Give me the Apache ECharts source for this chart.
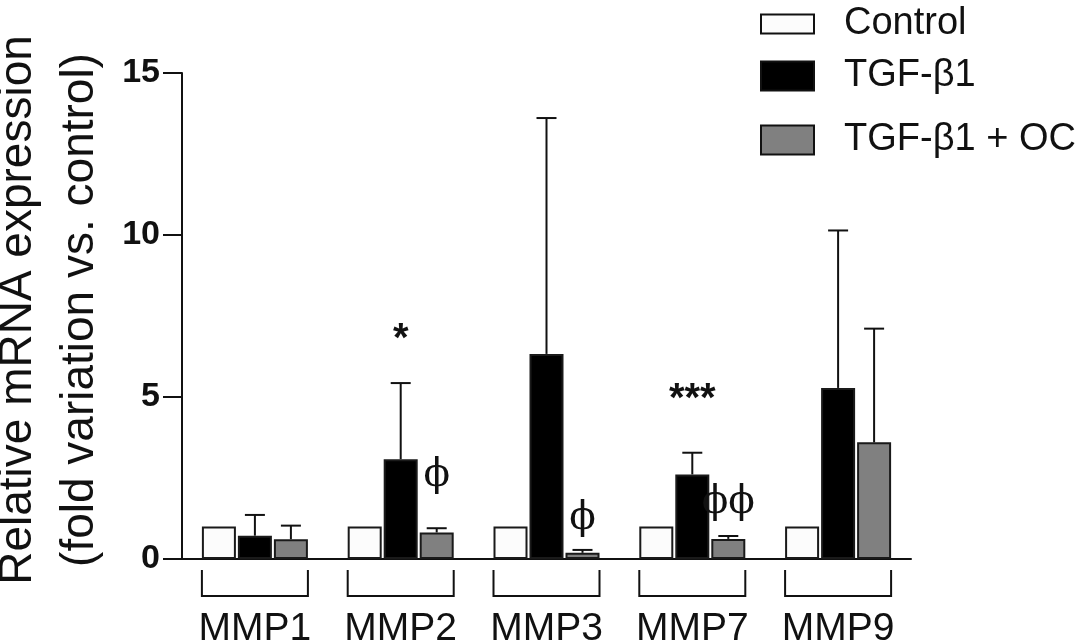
<!DOCTYPE html>
<html>
<head>
<meta charset="utf-8">
<title>MMP expression</title>
<script src="https://cdn.jsdelivr.net/npm/echarts@6/dist/echarts.min.js"></script>
<style>
  html, body { margin: 0; padding: 0; background: #fff; }
</style>
</head>
<body>
<div id="main" style="width:1084px;height:644px;"></div>
<script type="text/javascript">
// data
var categories = ['MMP1', 'MMP2', 'MMP3', 'MMP7', 'MMP9'];
var seriesNames = ['Control', 'TGF-β1', 'TGF-β1 + OC'];
var control = [1, 1, 1, 1, 1];
var tgf = [0.72, 3.08, 6.33, 2.61, 5.28];
var tgfSd = [0.64, 2.35, 7.28, 0.67, 4.86];
var oc = [0.61, 0.82, 0.19, 0.62, 3.60];
var ocSd = [0.42, 0.13, 0.09, 0.09, 3.51];
var yTicks = [0, 5, 10, 15];

// significance marks: category index, series index, value level, text
var markCat = [1, 3, 1, 2, 3];
var markSeries = [1, 1, 2, 2, 2];
var markLevel = [6.75, 4.9, 2.57, 1.24, 1.73];
var markText = ['*', '***', 'ϕ', 'ϕ', 'ϕϕ'];

var FONT = 'Liberation Sans, Arial, sans-serif';
var BAR_W = 34, BAR_GAP = 2;

function offsetOf(s) { return (s - 1) * (BAR_W + BAR_GAP); }

var errData = [];
categories.forEach(function (c, i) {
    errData.push([i, tgf[i], tgf[i] + tgfSd[i], 1]);
    errData.push([i, oc[i], oc[i] + ocSd[i], 2]);
});

var markData = markCat.map(function (c, k) {
    return [c, markLevel[k], markSeries[k], markText[k]];
});

var myChart = echarts.init(document.getElementById('main'));

function legendItem(name, top, h) {
    return {
        orient: 'vertical',
        left: 760,
        top: top,
        padding: 0,
        itemWidth: 53,
        itemHeight: h,
        selectedMode: false,
        data: [{ name: name, icon: 'rect' }],
        itemStyle: { borderColor: '#111', borderWidth: 2 },
        textStyle: { fontFamily: FONT, fontSize: 38, color: '#111', padding: [0, 0, 0, 25] }
    };
}

var option = {
    backgroundColor: '#fff',
    animation: false,
    legend: [
        legendItem('Control', 5, 19),
        legendItem('TGF-β1', 57, 29),
        legendItem('TGF-β1 + OC', 121, 29)
    ],
    grid: { left: 182, right: 173, top: 73, bottom: 85, containLabel: false, outerBoundsMode: 'none' },
    xAxis: {
        type: 'category',
        data: categories,
        axisLine: { lineStyle: { color: '#111', width: 2 } },
        axisTick: { show: false },
        axisLabel: { fontFamily: FONT, fontSize: 39, color: '#111', margin: 51, interval: 0 }
    },
    yAxis: {
        type: 'value',
        min: 0,
        max: 15,
        interval: 5,
        name: 'Relative mRNA expression\n(fold variation vs. control)',
        nameLocation: 'middle',
        nameRotate: 90,
        nameGap: 67,
        nameTextStyle: { fontFamily: FONT, fontSize: 46, color: '#111', lineHeight: 62, padding: [0, 0, 0, 12] },
        splitLine: { show: false },
        axisLine: { show: true, lineStyle: { color: '#111', width: 2 } },
        axisTick: { show: true, length: 19, lineStyle: { color: '#111', width: 2 } },
        axisLabel: {
            fontFamily: FONT, fontSize: 34, fontWeight: 'bold', color: '#111', margin: 22,
            formatter: function (v) { return yTicks.indexOf(v) >= 0 ? String(v) : ''; }
        }
    },
    series: [
        {
            name: seriesNames[0], type: 'bar', data: control,
            barWidth: BAR_W, barGap: (BAR_GAP / BAR_W * 100) + '%',
            itemStyle: { color: '#fcfcfc', borderColor: '#1a1a1a', borderWidth: 2 }
        },
        {
            name: seriesNames[1], type: 'bar', data: tgf,
            barWidth: BAR_W,
            itemStyle: { color: '#000', borderColor: '#1a1a1a', borderWidth: 2 }
        },
        {
            name: seriesNames[2], type: 'bar', data: oc,
            barWidth: BAR_W,
            itemStyle: { color: '#808080', borderColor: '#1a1a1a', borderWidth: 2 }
        },
        {
            // error bars (upper only)
            type: 'custom',
            data: errData,
            z: 3,
            renderItem: function (params, api) {
                var ci = api.value(0), s = api.value(3);
                var base = api.coord([ci, api.value(1)]);
                var top = api.coord([ci, api.value(2)]);
                var x = base[0] + offsetOf(s);
                return {
                    type: 'group',
                    children: [
                        { type: 'line', shape: { x1: x, y1: base[1], x2: x, y2: top[1] },
                          style: { stroke: '#111', lineWidth: 2 } },
                        { type: 'line', shape: { x1: x - 10, y1: top[1], x2: x + 10, y2: top[1] },
                          style: { stroke: '#111', lineWidth: 2 } }
                    ]
                };
            }
        },
        {
            // brackets under each group
            type: 'custom',
            data: categories.map(function (c, i) { return [i, 0]; }),
            clip: false,
            renderItem: function (params, api) {
                var p = api.coord([api.value(0), 0]);
                var half = 1.5 * BAR_W + BAR_GAP;
                return {
                    type: 'polyline',
                    shape: { points: [[p[0] - half, p[1] + 11], [p[0] - half, p[1] + 37],
                                      [p[0] + half, p[1] + 37], [p[0] + half, p[1] + 11]] },
                    style: { stroke: '#111', lineWidth: 2, fill: null }
                };
            }
        },
        {
            // significance marks
            type: 'custom',
            data: markData,
            z: 4,
            renderItem: function (params, api) {
                var p = api.coord([api.value(0), api.value(1)]);
                var txt = markData[params.dataIndex][3];
                var star = txt.indexOf('*') >= 0;
                return {
                    type: 'text',
                    x: p[0] + offsetOf(api.value(2)),
                    y: p[1],
                    style: {
                        text: txt,
                        fontFamily: star ? FONT : 'DejaVu Serif, serif',
                        fontSize: star ? 40 : 39,
                        fontWeight: star ? 'bold' : 'normal',
                        fill: '#111',
                        align: 'center',
                        verticalAlign: 'middle'
                    }
                };
            }
        }
    ]
};

myChart.setOption(option);
</script>
</body>
</html>
